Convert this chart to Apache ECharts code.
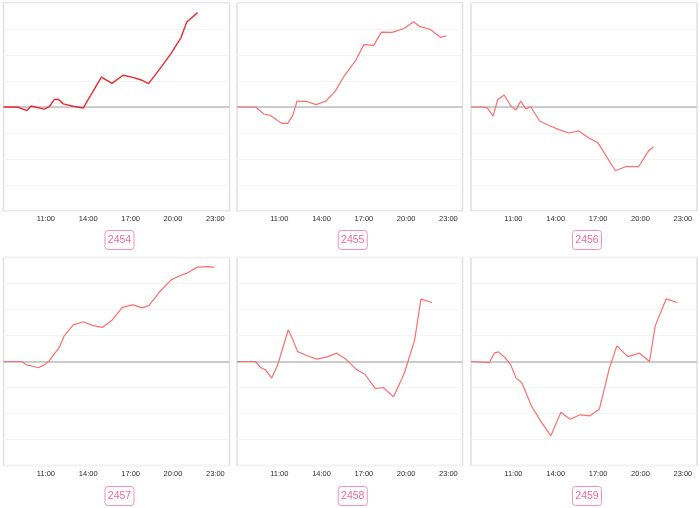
<!DOCTYPE html>
<html>
<head>
<meta charset="utf-8">
<script src="https://cdn.jsdelivr.net/npm/echarts@6/dist/echarts.min.js"></script>
<style>
html,body{margin:0;padding:0;background:#fff;}
#c{width:700px;height:508px;}
</style>
</head>
<body>
<div id="c"></div>
<script>
const titles = ['2454', '2455', '2456', '2457', '2458', '2459'];
const xTickHours = [8, 11, 14, 17, 20, 23];

const hours2454 = [8, 9, 9.65, 9.95, 10.89, 11.24, 11.6, 11.9, 12.23, 12.93, 13.64, 14.93, 15.68, 16.46, 17.16, 17.75, 18.27, 19.04, 19.87, 20.57, 20.97, 21.74];
const vals2454  = [0, 0, -0.14, 0.04, -0.08, 0.01, 0.29, 0.29, 0.12, 0.03, -0.04, 1.15, 0.91, 1.22, 1.14, 1.04, 0.9, 1.45, 2.06, 2.67, 3.27, 3.63];

const hours2455 = [8, 9.32, 9.9, 10.35, 11.17, 11.6, 11.95, 12.26, 12.93, 13.6, 14.3, 14.96, 15.59, 16.41, 17.0, 17.7, 18.25, 19.0, 19.82, 20.52, 20.99, 21.7, 22.44, 22.87];
const vals2455  = [0, 0, -0.27, -0.32, -0.63, -0.63, -0.33, 0.22, 0.22, 0.09, 0.22, 0.6, 1.18, 1.78, 2.4, 2.37, 2.88, 2.87, 3.01, 3.28, 3.09, 2.99, 2.68, 2.74];

const hours2456 = [8, 8.82, 9.17, 9.57, 9.88, 10.35, 10.82, 11.17, 11.52, 11.88, 12.23, 12.86, 13.57, 14.27, 14.93, 15.64, 16.34, 16.98, 18.22, 18.98, 19.87, 20.57, 20.92];
const vals2456  = [0, 0, -0.04, -0.35, 0.27, 0.46, 0.04, -0.12, 0.23, -0.08, 0.01, -0.54, -0.72, -0.88, -1.0, -0.92, -1.19, -1.37, -2.45, -2.29, -2.29, -1.69, -1.53];

const hours2457 = [8, 9.29, 9.65, 10.47, 10.89, 11.24, 11.95, 12.3, 12.93, 13.64, 14.34, 15.0, 15.7, 16.41, 17.16, 17.82, 18.29, 19.1, 19.87, 20.4, 21.04, 21.74, 22.52, 22.92];
const vals2457  = [0, 0, -0.13, -0.24, -0.13, 0.03, 0.54, 0.99, 1.41, 1.53, 1.38, 1.31, 1.6, 2.08, 2.18, 2.06, 2.15, 2.71, 3.14, 3.28, 3.41, 3.63, 3.65, 3.62];

const hours2458 = [8, 9.31, 9.66, 10.01, 10.46, 10.89, 11.24, 11.64, 11.94, 12.3, 13.0, 13.66, 14.41, 15.07, 15.71, 16.48, 17.07, 17.82, 18.37, 19.11, 19.87, 20.6, 21.05, 21.83];
const vals2458  = [0, 0, -0.23, -0.32, -0.63, -0.13, 0.51, 1.22, 0.87, 0.38, 0.22, 0.09, 0.18, 0.32, 0.1, -0.31, -0.49, -1.04, -1.0, -1.36, -0.45, 0.81, 2.4, 2.27];

const hours2459 = [8, 9.3, 9.65, 9.93, 10.41, 10.81, 11.19, 11.59, 12.3, 12.96, 13.65, 14.36, 15.02, 15.72, 16.43, 17.09, 17.78, 18.33, 19.1, 19.93, 20.64, 21.04, 21.82, 22.58];
const vals2459  = [0, -0.04, 0.32, 0.37, 0.15, -0.13, -0.64, -0.81, -1.73, -2.31, -2.86, -1.95, -2.22, -2.05, -2.09, -1.83, -0.29, 0.6, 0.19, 0.32, 0, 1.37, 2.41, 2.27];

const allHours = [hours2454, hours2455, hours2456, hours2457, hours2458, hours2459];
const allVals  = [vals2454, vals2455, vals2456, vals2457, vals2458, vals2459];

const colLeft = [3.5, 237, 471];
const colWidth = [226, 225.5, 226];
const rowTop = [3, 257.5];
const gridH = 208;
const titleTop = [230, 486];

const grids = [], xAxes = [], yAxes = [], series = [], titleList = [];
for (let i = 0; i < 6; i++) {
  const c = i % 3, r = Math.floor(i / 3);
  grids.push({
    left: colLeft[c], top: rowTop[r], width: colWidth[c], height: gridH,
    show: true, borderColor: '#e0e0e0', borderWidth: 1.5, backgroundColor: 'transparent'
  });
  xAxes.push({
    type: 'value', gridIndex: i, min: xTickHours[0], max: 24, interval: 3,
    axisLine: { show: false }, axisTick: { show: false }, splitLine: { show: false },
    axisLabel: {
      showMinLabel: false, showMaxLabel: false, margin: 4,
      fontSize: 7.5, color: '#2a2a2a', fontFamily: 'Liberation Sans',
      formatter: v => (xTickHours.indexOf(v) >= 0 ? v + ':00' : '')
    }
  });
  yAxes.push({
    type: 'value', gridIndex: i, min: -4, max: 4, interval: 1,
    axisLine: { show: false }, axisTick: { show: false }, axisLabel: { show: false },
    splitLine: { show: true, lineStyle: { color: '#f4f4f4', width: 1 } }
  });
  const data = allHours[i].map((h, k) => [h, allVals[i][k]]);
  series.push({
    type: 'line', xAxisIndex: i, yAxisIndex: i, data: data, z: 3,
    symbol: 'none', smooth: false, animation: false,
    lineStyle: { color: i === 0 ? '#ea2a30' : '#fb6f6f', width: i === 0 ? 1.4 : 1.2 },
    markLine: {
      silent: true, z: 1, symbol: ['none', 'none'], label: { show: false }, animation: false,
      lineStyle: { color: '#bdbdbd', width: 1.5, type: 'solid' },
      data: [{ yAxis: 0 }]
    }
  });
  titleList.push({
    text: titles[i],
    left: colLeft[c] + colWidth[c] / 2, top: titleTop[r], textAlign: 'center',
    borderColor: '#f590b4', borderWidth: 1, borderRadius: 3, padding: [5, 3, 4, 3],
    backgroundColor: '#fff',
    textStyle: { fontSize: 10.5, fontWeight: 'normal', color: '#f0699b', fontFamily: 'Liberation Sans' }
  });
}

const chart = echarts.init(document.getElementById('c'), null, { renderer: 'canvas' });
chart.setOption({
  backgroundColor: '#fff',
  animation: false,
  title: titleList,
  grid: grids,
  xAxis: xAxes,
  yAxis: yAxes,
  series: series
});
</script>
</body>
</html>
